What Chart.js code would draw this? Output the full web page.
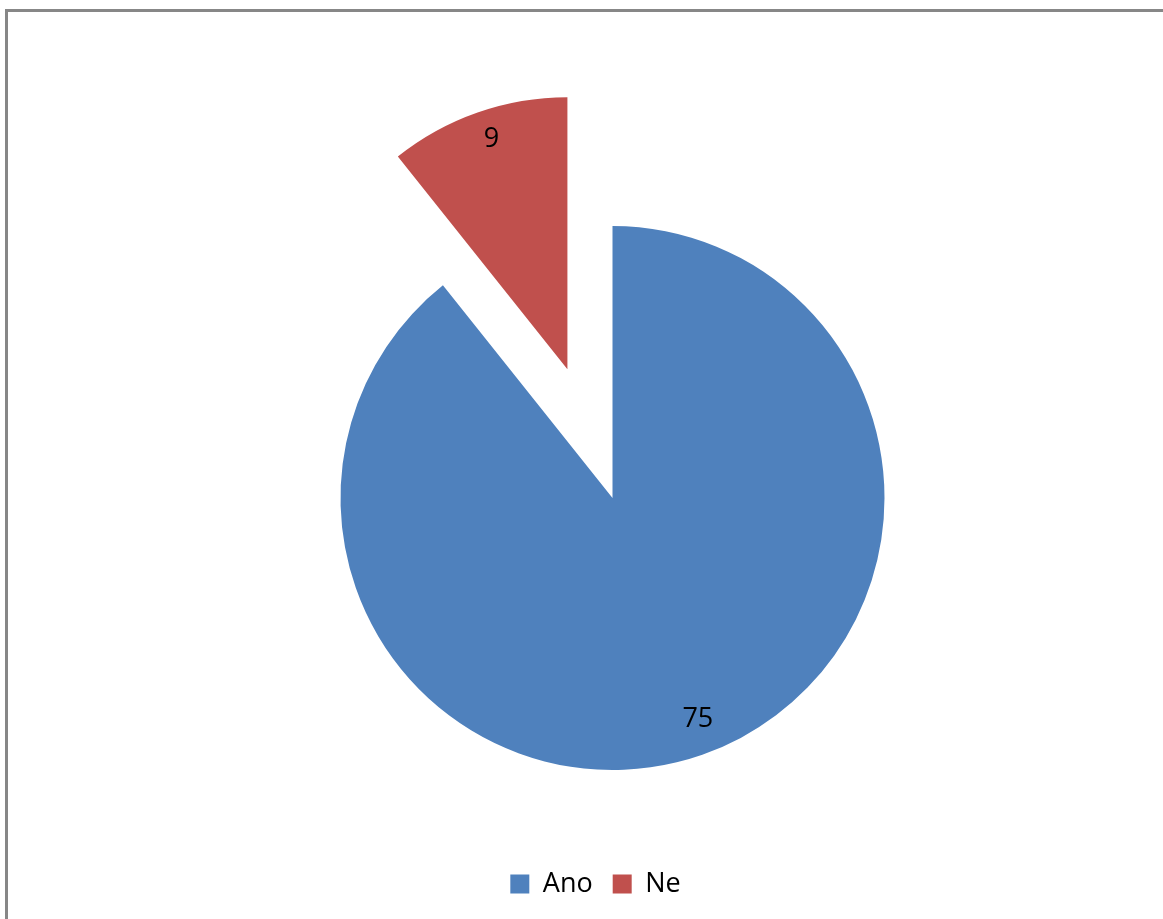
<!DOCTYPE html>
<html>
<head>
<meta charset="utf-8">
<title>Ano / Ne</title>
<script src="https://cdn.jsdelivr.net/npm/chart.js@4/dist/chart.umd.min.js"></script>
<style>
  html, body { margin: 0; padding: 0; background: #fff; overflow: hidden; }
  #wrap { position: relative; width: 1163px; height: 919px; }
  #frame {
    position: absolute; left: 5px; top: 9px; right: -10px; bottom: -10px;
    border-top: 3px solid #878787; border-left: 3px solid #878787;
    box-sizing: border-box; pointer-events: none;
  }
  canvas { position: absolute; left: 0; top: 0; }
</style>
</head>
<body>
<div id="wrap">
  <div id="frame"></div>
  <canvas id="chart" width="1163" height="919"></canvas>
</div>
<script>
// Survey answers
const categories = ['Ano', 'Ne'];
const counts = [75, 9];
const sliceColors = ['#4F81BD', '#C0504D'];

// Pulls individual slices outward along their mid angle
const explodePlugin = {
  id: 'explode',
  beforeDatasetDraw(chart, args, opts) {
    const ctx = chart.ctx;
    const dist = opts.distance || [];
    args.meta.data.forEach((arc, i) => {
      const d = dist[i] || 0;
      const mid = (arc.startAngle + arc.endAngle) / 2;
      ctx.save();
      ctx.translate(Math.cos(mid) * d, Math.sin(mid) * d);
      arc.draw(ctx);
      ctx.restore();
    });
    return false;
  }
};

// Writes each slice's value inside the slice, near its outer edge
const valueLabels = {
  id: 'valueLabels',
  afterDatasetsDraw(chart, args, opts) {
    const ctx = chart.ctx;
    const dist = (chart.options.plugins.explode || {}).distance || [];
    const meta = chart.getDatasetMeta(0);
    const data = chart.data.datasets[0].data;
    ctx.save();
    ctx.font = opts.size + 'px ' + opts.family;
    ctx.fillStyle = opts.color;
    ctx.textAlign = 'center';
    ctx.textBaseline = 'middle';
    meta.data.forEach((arc, i) => {
      const mid = (arc.startAngle + arc.endAngle) / 2;
      const d = dist[i] || 0;
      const cx = arc.x + Math.cos(mid) * d;
      const cy = arc.y + Math.sin(mid) * d;
      const a = mid + (opts.turn[i] || 0);
      const r = arc.outerRadius * opts.at[i];
      ctx.fillText(String(data[i]), cx + Math.cos(a) * r, cy + Math.sin(a) * r);
    });
    ctx.restore();
  }
};

// Keeps the legend centred on the whole frame rather than on the pie
const legendShift = {
  id: 'legendShift',
  afterLayout(chart, args, opts) {
    const lg = chart.legend;
    if (lg) { lg.left += opts.dx; lg.right += opts.dx; }
  }
};

Chart.defaults.font.family = "'Open Sans', sans-serif";
Chart.defaults.color = '#000';

new Chart(document.getElementById('chart'), {
  type: 'pie',
  data: {
    labels: categories,
    datasets: [{
      data: counts,
      backgroundColor: sliceColors,
      borderWidth: 0,
      radius: 272,
      clip: false
    }]
  },
  options: {
    responsive: false,
    animation: false,
    layout: { padding: { left: 62, right: 0, top: 145.5, bottom: 11.5 } },
    plugins: {
      tooltip: { enabled: false },
      explode: { distance: [0, 136.5] },
      valueLabels: {
        size: 27, family: "'Open Sans', sans-serif", color: '#000',
        at: [0.871, 0.89], turn: [-0.032, 0.017]
      },
      legendShift: { dx: -17 },
      legend: {
        position: 'bottom',
        labels: {
          boxWidth: 19,
          boxHeight: 19,
          padding: 20,
          color: '#000',
          font: { size: 27 }
        }
      }
    }
  },
  plugins: [explodePlugin, valueLabels, legendShift]
});
</script>
</body>
</html>
